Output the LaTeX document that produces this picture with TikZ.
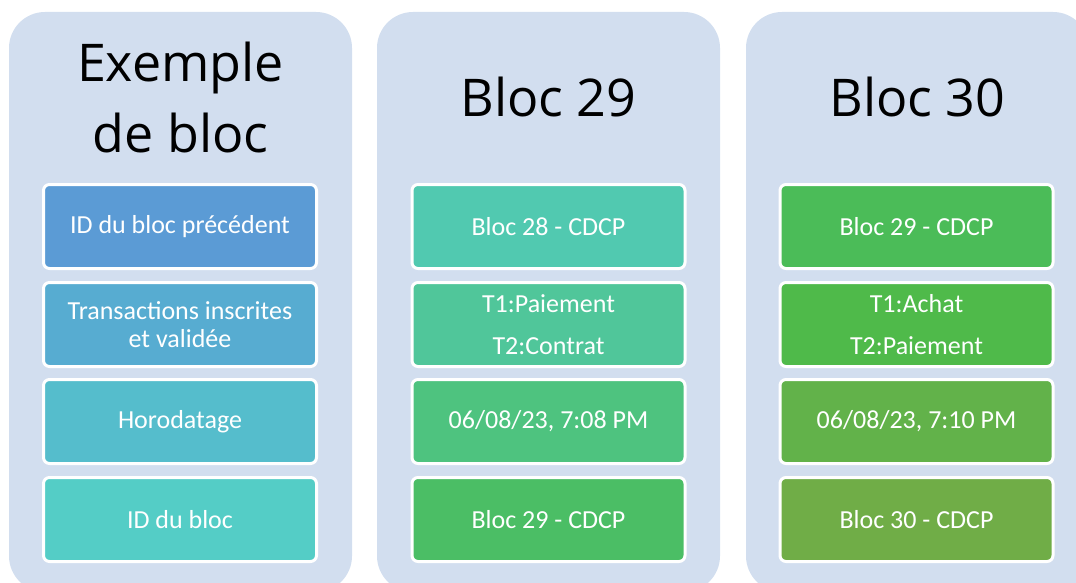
\documentclass[tikz,border=0pt]{standalone}
\usepackage{fontspec}
\setmainfont{Carlito}
\newfontfamily\titlefont{Open Sans}

\definecolor{panelbg}{HTML}{D2DEEF}
\definecolor{exA}{HTML}{5B9BD5}
\definecolor{exB}{HTML}{57ACD1}
\definecolor{exC}{HTML}{55BDCC}
\definecolor{exD}{HTML}{54CDC6}
\definecolor{bA}{HTML}{51C9B0}
\definecolor{bB}{HTML}{50C69A}
\definecolor{bC}{HTML}{4EC37F}
\definecolor{bD}{HTML}{4BBE65}
\definecolor{cA}{HTML}{4BBC58}
\definecolor{cB}{HTML}{4FBA4A}
\definecolor{cC}{HTML}{62B24A}
\definecolor{cD}{HTML}{70AD47}

\tikzset{
  panel/.style={fill=panelbg, rounded corners=36pt, minimum width=343pt,
    minimum height=580pt, inner sep=0pt},
  cell/.style={draw=white, line width=3pt, rounded corners=6pt,
    minimum width=273pt, minimum height=84pt, inner sep=0pt,
    text=white, align=center, font=\fontsize{26}{28}\selectfont},
  wide/.style={font=\fontsize{26}{42}\selectfont},
  title/.style={align=center, font=\titlefont\fontsize{52}{71}\selectfont}
}

\begin{document}
\begin{tikzpicture}[x=1pt,y=-1pt]
    \useasboundingbox (0,0) rectangle (1076,583);
    \clip (0,0) rectangle (1076,583);

    % the three columns
    \node[panel] (p1) at (180.5,302) {};
    \node[panel] (p2) at (548.5,302) {};
    \node[panel] (p3) at (917.5,302) {};

    \node[title] (t1) at (180.5,97.5) {Exemple\\de bloc};
    \node[title] (t2) at (548.5,97.5) {Bloc 29};
    \node[title] (t3) at (917.5,97.5) {Bloc 30};

    % example block
    \node[cell, fill=exA] (ex1) at (180,226.5) {ID du bloc précédent};
    \node[cell, fill=exB] (ex2) at (180,324.5) {Transactions inscrites\\et validée};
    \node[cell, fill=exC] (ex3) at (180,421.5) {Horodatage};
    \node[cell, fill=exD] (ex4) at (180,519.5) {ID du bloc};

    % block 29
    \node[cell, fill=bA] (b29a) at (548.5,226.5) {Bloc 28 - CDCP};
    \node[cell, wide, fill=bB] (b29b) at (548.5,324.5) {T1:Paiement\\T2:Contrat};
    \node[cell, fill=bC] (b29c) at (548.5,421.5) {06/08/23, 7:08 PM};
    \node[cell, fill=bD] (b29d) at (548.5,519.5) {Bloc 29 - CDCP};

    % block 30
    \node[cell, fill=cA] (b30a) at (916.5,226.5) {Bloc 29 - CDCP};
    \node[cell, wide, fill=cB] (b30b) at (916.5,324.5) {T1:Achat\\T2:Paiement};
    \node[cell, fill=cC] (b30c) at (916.5,421.5) {06/08/23, 7:10 PM};
    \node[cell, fill=cD] (b30d) at (916.5,519.5) {Bloc 30 - CDCP};
\end{tikzpicture}
\end{document}
